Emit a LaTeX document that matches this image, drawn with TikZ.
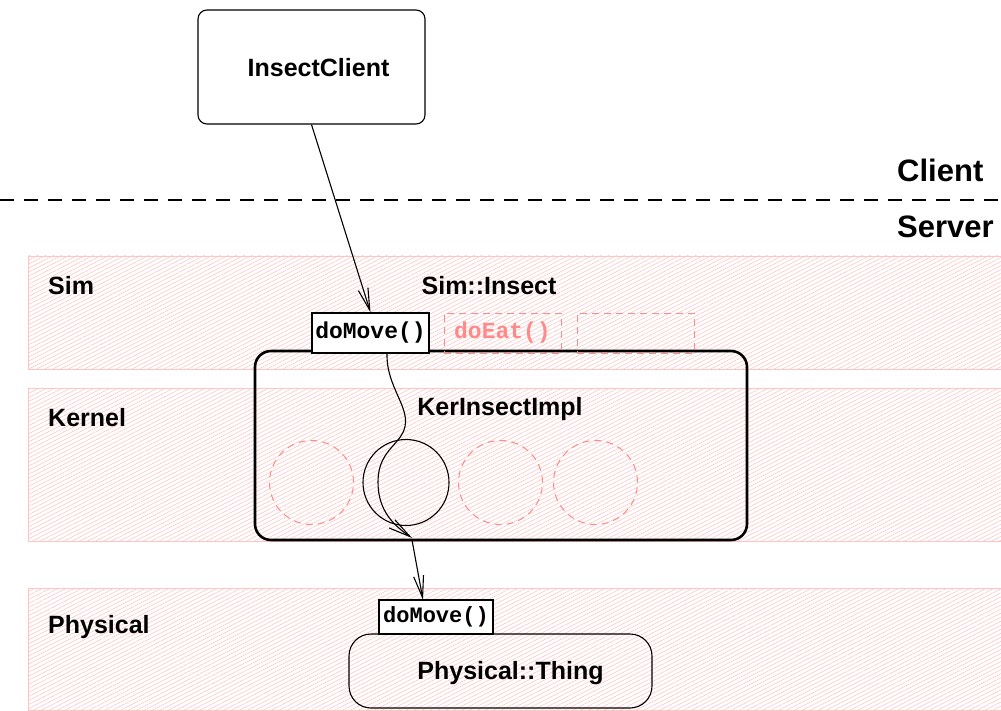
\documentclass[tikz,border=0pt]{standalone}
\usepackage{fontspec}
\setmainfont{Liberation Sans}
\newfontfamily\monob{Liberation Mono}
\usetikzlibrary{arrows.meta,patterns.meta}
\definecolor{hatch}{HTML}{FFC2C2}
\definecolor{bandline}{HTML}{FFC4C4}
\definecolor{ghost}{HTML}{FF8A8A}
\tikzset{
  band/.style={draw=bandline, line width=0.8pt, pattern={Lines[angle=27,distance=3.6pt,line width=0.55pt]}, pattern color=hatch},
  lbl/.style={font=\fontsize{25}{30}\selectfont\bfseries, inner sep=0pt},
  biglbl/.style={font=\fontsize{31}{36}\selectfont\bfseries, inner sep=0pt, anchor=west},
  bandlbl/.style={lbl, anchor=west},
  methodbox/.style={draw, line width=1.1pt, fill=white, inner sep=0pt, font=\monob\fontsize{23}{26}\selectfont\bfseries},
  ghostbox/.style={draw=ghost, line width=1pt, dash pattern=on 7pt off 5pt, inner sep=0pt, minimum width=117, minimum height=40, text=ghost, font=\monob\fontsize{23}{26}\selectfont\bfseries},
  ghostcirc/.style={circle, draw=ghost, line width=1pt, dash pattern=on 7pt off 5pt, minimum size=84, inner sep=0pt},
  barb/.style={-{Straight Barb[length=22pt,width=10pt]}, line width=1.1pt},
}
\begin{document}
\begin{tikzpicture}[x=1pt,y=-1pt]
\useasboundingbox (0,0) rectangle (1001,711);
% bands
\path[band] (28,256) rectangle (1001,369);
\path[band] (28,388) rectangle (1001,541);
\path[band] (28,588) rectangle (1001,710);
% client
\node[draw, line width=1.1pt, rounded corners=9pt, minimum width=227, minimum height=114, inner sep=0pt] (ic) at (311.5,67) {};
\node[lbl] (ict) at (318.5,68) {InsectClient};
% divider
\coordinate (dl) at (0,200);
\coordinate (dr) at (1001,200);
\draw[line width=2pt, dash pattern=on 14pt off 10pt] (dl) -- (dr);
\node[biglbl] (client) at (897,170) {Client};
\node[biglbl] (server) at (897,227) {Server};
% band labels
\node[bandlbl] (sim) at (48,286) {Sim};
\node[bandlbl] (kernel) at (48,418) {Kernel};
\node[bandlbl] (phys) at (48,627) {Physical};
\node[lbl] (siminsect) at (489,286) {Sim::Insect};
% kernel impl box
\node[draw, line width=2.6pt, rounded corners=16pt, minimum width=492, minimum height=189, inner sep=0pt] (ker) at (501,445.5) {};
\node[lbl] (kert) at (500,409) {KerInsectImpl};
\node[ghostcirc] (c1) at (311.5,482.5) {};
\node[circle, draw, line width=1.1pt, minimum size=86, inner sep=0pt] (c2) at (406,482.5) {};
\node[ghostcirc] (c3) at (500.5,482.5) {};
\node[ghostcirc] (c4) at (595.5,482.5) {};
% sim methods
\node[ghostbox] (doeat) at (502.5,333) {doEat()};
\node[ghostbox] (empty) at (635.5,333) {};
\node[methodbox, minimum width=117, minimum height=40] (domove) at (370.5,333) {doMove()};
% physical
\node[draw, line width=1.1pt, rounded corners=22pt, minimum width=303, minimum height=74, inner sep=0pt] (thing) at (500.5,671) {};
\node[lbl] (thingt) at (510.5,673) {Physical::Thing};
\node[methodbox, minimum width=114, minimum height=34, font=\monob\fontsize{22}{25}\selectfont\bfseries] (pdomove) at (436,617) {doMove()};
% connectors
\draw[barb] (ic.south) -- (domove.north);
\coordinate (s1) at (387,353);
\coordinate (kout) at (412,538);
\coordinate (kout2) at (412,540);
\coordinate (pin) at (423,600);
\draw[barb] (s1) .. controls (386,388) and (412,408) .. (404,430)
  .. controls (398,446) and (378,452) .. (378,482)
  .. controls (378,512) and (395,526) .. (kout);
\draw[barb] (kout2) -- (pin);
\end{tikzpicture}
\end{document}
